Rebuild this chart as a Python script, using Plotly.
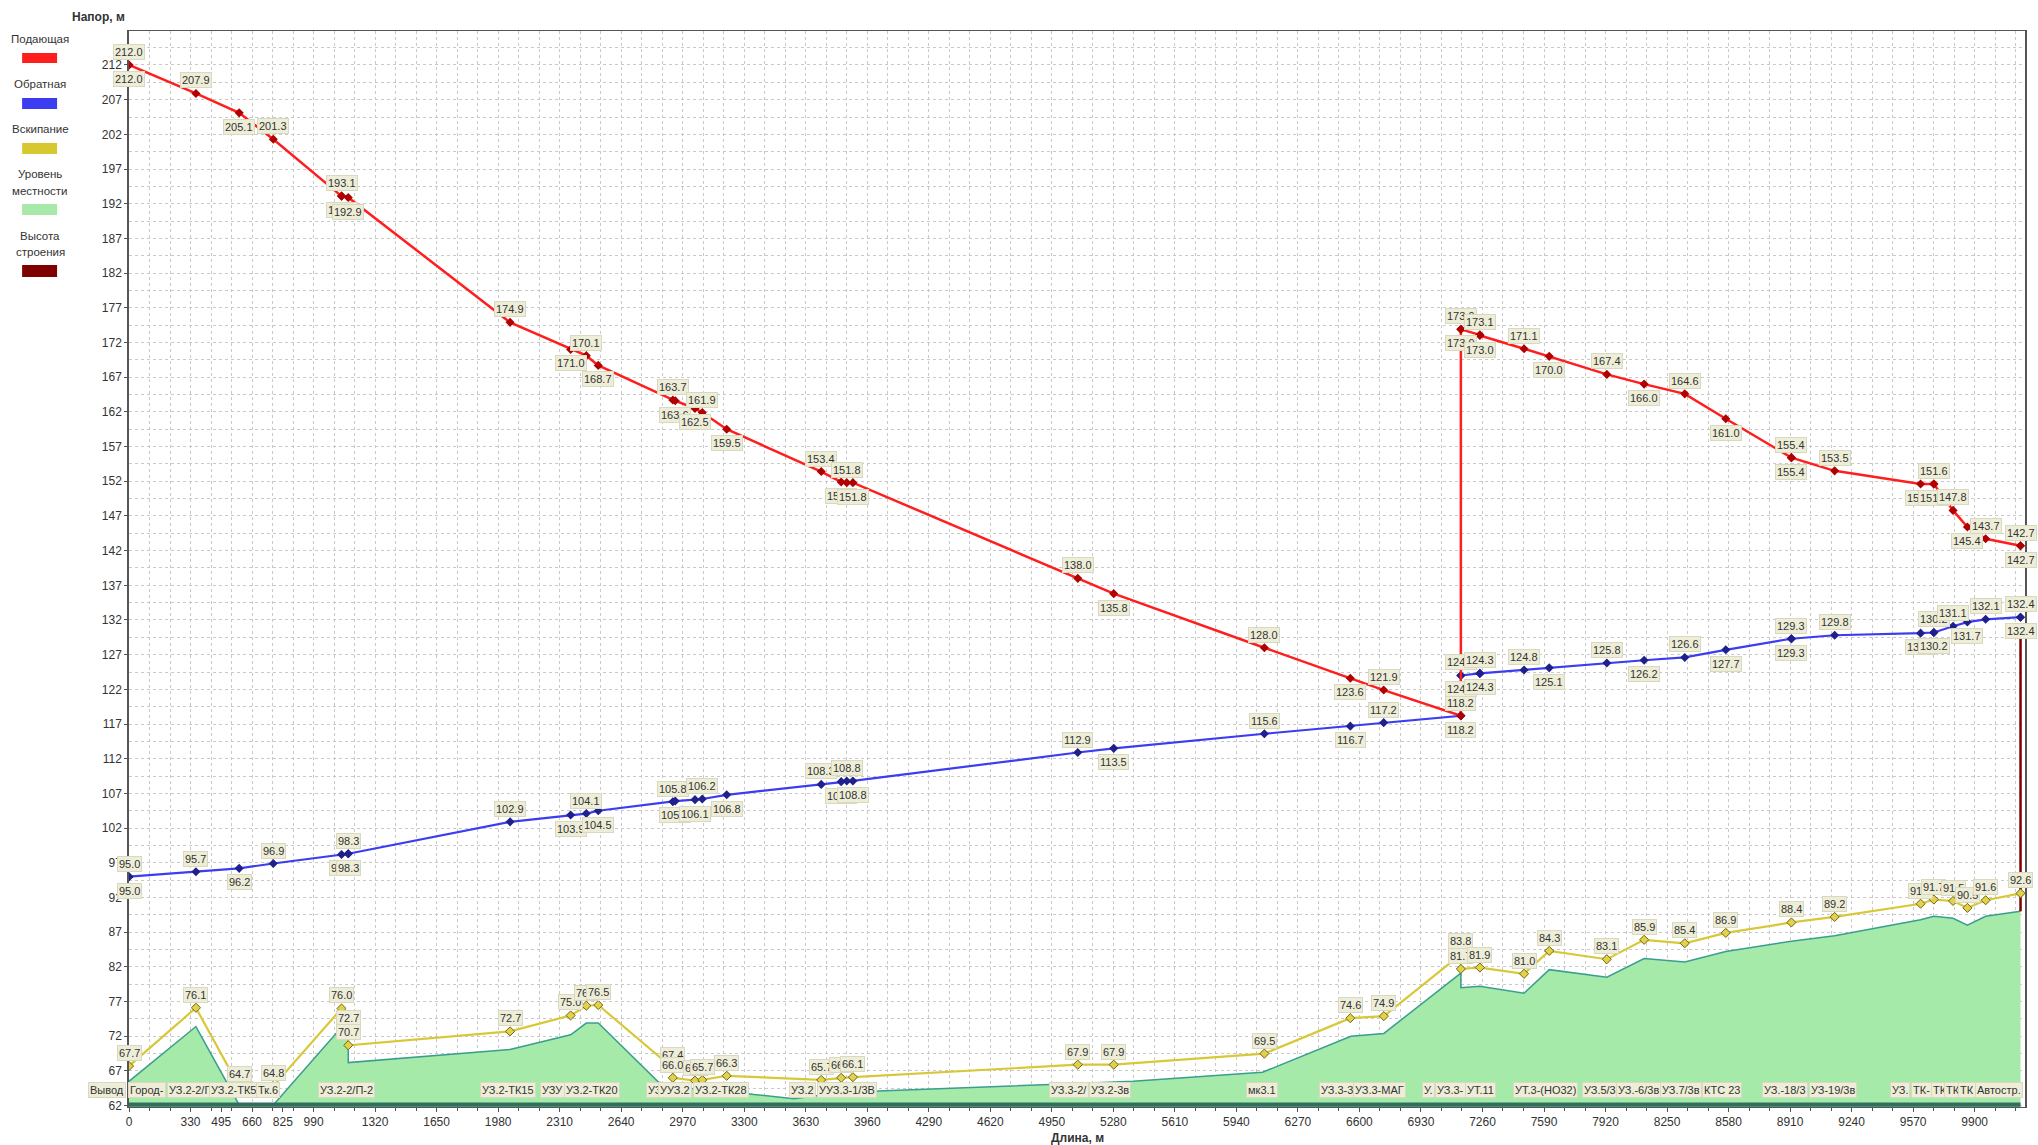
import plotly.graph_objects as go

# ---------------- data ----------------
x_tick_vals = [0, 330, 495, 660, 825, 990, 1320, 1650, 1980, 2310, 2640, 2970, 3300, 3630, 3960,
               4290, 4620, 4950, 5280, 5610, 5940, 6270, 6600, 6930, 7260, 7590, 7920, 8250,
               8580, 8910, 9240, 9570, 9900]
y_tick_vals = list(range(62, 213, 5))

# Подающая (supply head)
red_dist = [0, 0, 359, 591, 774, 1140, 1140, 1176, 2044, 2369, 2453, 2517, 2917, 2930, 3036, 3075,
            3206, 3713, 3820, 3850, 3883, 5089, 5282, 6090, 6551, 6730, 7144, 7144, 7144, 7246,
            7246, 7483, 7618, 7927, 8127, 8345, 8565, 8917, 8917, 9149, 9610, 9681, 9681, 9784,
            9861, 9959, 10146, 10146]
red_head = [212.0, 212.0, 207.9, 205.1, 201.3, 193.1, 193.1, 192.9, 174.9, 171.0, 170.1, 168.7,
            163.7, 163.6, 162.5, 161.9, 159.5, 153.4, 151.9, 151.8, 151.8, 138.0, 135.8, 128.0,
            123.6, 121.9, 118.2, 173.9, 173.9, 173.1, 173.0, 171.1, 170.0, 167.4, 166.0, 164.6,
            161.0, 155.4, 155.4, 153.5, 151.6, 151.6, 151.6, 147.8, 145.4, 143.7, 142.7, 142.7]
red_lab = ['t', 'b', 't', 'b', 't', 't', 'b', 'b', 't', 'b', 't', 'b', 't', 'b', 'b', 't',
           'b', 't', 'b', 't', 'b', 't', 'b', 't', 'b', 't', '', 't', 'b', 't',
           'b', 't', 'b', 't', 'b', 't', 'b', 't', 'b', 't', 'b', 't', 'b', 't',
           'b', 't', 't', 'b']

# Обратная (return head)
blue_dist = [0, 0, 359, 591, 774, 1140, 1176, 1176, 2044, 2369, 2453, 2517, 2917, 2930, 3036, 3075,
             3206, 3713, 3820, 3850, 3883, 5089, 5282, 6090, 6551, 6730, 7144, 7144, 7144, 7144,
             7246, 7246, 7483, 7618, 7927, 8127, 8345, 8565, 8917, 8917, 9149, 9610, 9681, 9681,
             9784, 9861, 9959, 10146, 10146]
blue_head = [95.0, 95.0, 95.7, 96.2, 96.9, 98.2, 98.3, 98.3, 102.9, 103.9, 104.1, 104.5, 105.8,
             105.9, 106.1, 106.2, 106.8, 108.3, 108.7, 108.8, 108.8, 112.9, 113.5, 115.6, 116.7,
             117.2, 118.2, 118.2, 124.0, 124.0, 124.3, 124.3, 124.8, 125.1, 125.8, 126.2, 126.6,
             127.7, 129.3, 129.3, 129.8, 130.1, 130.2, 130.2, 131.1, 131.7, 132.1, 132.4, 132.4]
blue_lab = ['t', 'b', 't', 'b', 't', 'b', 't', 'b', 't', 'b', 't', 'b', 't', 'b', 'b', 't',
            'b', 't', 'b', 't', 'b', 't', 'b', 't', 'b', 't', 't', 'b', 't', 'b',
            't', 'b', 't', 'b', 't', 'b', 't', 'b', 't', 'b', 't', 'b', 't', 'b',
            't', 'b', 't', 't', 'b']

# Вскипание (boiling head)
boil_dist = [0, 359, 591, 774, 1140, 1176, 1176, 2044, 2369, 2453, 2517, 2917, 2917, 3036, 3075,
             3206, 3713, 3820, 3883, 5089, 5282, 6090, 6551, 6731, 7144, 7144, 7246, 7483, 7618,
             7927, 8127, 8345, 8565, 8917, 9149, 9610, 9681, 9784, 9861, 9959, 10146]
boil_head = [67.7, 76.1, 64.7, 64.8, 76.0, 72.7, 70.7, 72.7, 75.0, 76.4, 76.5, 67.4, 66.0, 65.6,
             65.7, 66.3, 65.7, 66.0, 66.1, 67.9, 67.9, 69.5, 74.6, 74.9, 83.8, 81.7, 81.9, 81.0,
             84.3, 83.1, 85.9, 85.4, 86.9, 88.4, 89.2, 91.1, 91.7, 91.5, 90.5, 91.6, 92.6]

# Уровень местности (ground level)
ground_dist = [0, 359, 591, 774, 1140, 1176, 1176, 2044, 2369, 2453, 2517, 2840, 2945, 3206, 3353,
               3568, 3735, 4022, 5089, 5386, 6080, 6554, 6731, 7144, 7144, 7246, 7483, 7618, 7927,
               8127, 8345, 8565, 8917, 9149, 9610, 9681, 9784, 9861, 9959, 10146]
ground_elev = [65.5, 73.4, 62.1, 62.1, 73.3, 71.6, 68.2, 70.1, 72.2, 73.9, 73.9, 65.4, 64.6, 64.1,
               63.6, 63.0, 63.6, 64.1, 65.2, 65.5, 66.8, 72.0, 72.4, 81.1, 79.0, 79.2, 78.2, 81.6,
               80.5, 83.2, 82.7, 84.2, 85.7, 86.5, 88.8, 89.3, 89.0, 88.0, 89.3, 90.0]

# Высота строения (building height at the end consumer)
building_dist = [10146, 10146]
building_head = [90.0, 131.0]

# node names along the profile
node_names = ["Вывод", "Город-", "УЗ.2-2/Г", "УЗ.2-ТК5", "Тк.6", "УЗ.2-2/П-2", "УЗ.2-ТК15", "УЗУ",
              "УЗ.2-ТК20", "УЗ.", "УУЗ.2", "УЗ.2-ТК28", "УЗ.2", "УУЗ.3-1/3В", "УЗ.3-2/",
              "УЗ.2-3в", "мк3.1", "УЗ.3-3", "УЗ.3-МАГ", "У.", "УЗ.3-", "УТ.11", "УТ.3-(НО32)",
              "УЗ.5/3", "УЗ.-6/3в", "УЗ.7/3в", "КТС 23", "УЗ.-18/3", "УЗ-19/3в", "УЗ.", "ТК-",
              "ТК", "ТК.", "ТК", "Автостр."]
node_name_dist = [-120, 96, 326, 562, 743, 1168, 2032, 2269, 2485, 2825, 2930, 3174, 3613, 3849,
                  5040, 5263, 6078, 6482, 6705, 6969, 7088, 7248, 7596, 7888, 8097, 8327, 8543,
                  8884, 9142, 9497, 9616, 9713, 9789, 9859, 10033]

legend_items = [("Подающая",), ("Обратная",), ("Вскипание",), ("Уровень", "местности"),
                ("Высота", "строения")]

# ---------------- layout geometry ----------------
W, H = 2038, 1145
PL, PR, PT, PB = 129, 2027, 31, 1107
XR = [0, 10170]
YR = [61.8, 216.9]

FONT = "Liberation Sans, Arial, sans-serif"
C_RED = "#FF1E1E"
C_BLUE = "#3C3CF0"
C_YEL = "#D8C838"
C_GFILL = "#A6EAAA"
C_GLINE = "#3A9E8E"
C_BLD = "#7F0000"
LBL_BG = "#EEEED8"
LBL_BORDER = "#D9D9C2"


def px_to_paper(px, py):
    return (px - PL) / (PR - PL), (PB - py) / (PB - PT)


fig = go.Figure()

fig.add_trace(go.Scatter(x=ground_dist, y=ground_elev, mode="lines", fill="tozeroy",
                         fillcolor=C_GFILL, line=dict(color=C_GLINE, width=1.5),
                         hoverinfo="skip", showlegend=False))
fig.add_trace(go.Scatter(x=building_dist, y=building_head, mode="lines",
                         line=dict(color=C_BLD, width=2.5), hoverinfo="skip", showlegend=False))
fig.add_trace(go.Scatter(x=boil_dist, y=boil_head, mode="lines+markers",
                         line=dict(color=C_YEL, width=2.2),
                         marker=dict(symbol="diamond", size=7, color="#E2D24A",
                                     line=dict(color="#6F6412", width=1)),
                         hoverinfo="skip", showlegend=False))
fig.add_trace(go.Scatter(x=blue_dist, y=blue_head, mode="lines+markers",
                         line=dict(color=C_BLUE, width=2.2),
                         marker=dict(symbol="diamond", size=7, color="#20208A"),
                         hoverinfo="skip", showlegend=False))
fig.add_trace(go.Scatter(x=red_dist, y=red_head, mode="lines+markers",
                         line=dict(color=C_RED, width=2.5),
                         marker=dict(symbol="diamond", size=7, color="#B00000"),
                         hoverinfo="skip", showlegend=False))

# dark strip along the bottom of the ground profile
fig.add_shape(type="rect", xref="x", yref="y", x0=0, x1=ground_dist[-1], y0=61.85, y1=62.45,
              fillcolor="#2E6F60", line=dict(width=0), layer="above")

lbl_font = dict(family=FONT, size=11, color="#333333")


def add_value_labels(xs, ys, pos):
    for x, y, p in zip(xs, ys, pos):
        if not p:
            continue
        fig.add_annotation(x=x, y=y, xref="x", yref="y", text=f"{y:.1f}", showarrow=False,
                           xanchor="center", yanchor="middle",
                           yshift=13 if p == "t" else -14, font=lbl_font, bgcolor=LBL_BG,
                           bordercolor=LBL_BORDER, borderwidth=1, borderpad=1)


add_value_labels(boil_dist, boil_head, ["t"] * len(boil_head))
add_value_labels(blue_dist, blue_head, blue_lab)
add_value_labels(red_dist, red_head, red_lab)

ny = px_to_paper(0, 1090)[1]
for name, d in zip(node_names, node_name_dist):
    fig.add_annotation(x=(d - XR[0]) / (XR[1] - XR[0]), y=ny, xref="paper", yref="paper",
                       text=name, showarrow=False, xanchor="center", yanchor="middle",
                       font=lbl_font, bgcolor=LBL_BG, bordercolor=LBL_BORDER, borderwidth=1,
                       borderpad=1)

# axis titles
tx, ty = px_to_paper(98, 17)
fig.add_annotation(x=tx, y=ty, xref="paper", yref="paper", text="<b>Напор, м</b>",
                   showarrow=False, xanchor="center", yanchor="middle",
                   font=dict(family=FONT, size=12, color="#333333"))
tx, ty = px_to_paper(1078, 1138)
fig.add_annotation(x=tx, y=ty, xref="paper", yref="paper", text="<b>Длина, м</b>",
                   showarrow=False, xanchor="center", yanchor="middle",
                   font=dict(family=FONT, size=12, color="#333333"))

# legend (text above colour swatch)
legend_colors = [C_RED, C_BLUE, "#D8C830", "#A8E8A8", C_BLD]
text_rows = [[39], [84], [129], [174, 191], [236, 252]]
swatch_rows = [(53, 63), (98, 109), (143, 154), (204, 215), (265, 277)]
for item, col, trows, (s0, s1) in zip(legend_items, legend_colors, text_rows, swatch_rows):
    for line, yy in zip(item, trows):
        lx, ly = px_to_paper(40, yy)
        fig.add_annotation(x=lx, y=ly, xref="paper", yref="paper", text=line, showarrow=False,
                           xanchor="center", yanchor="middle",
                           font=dict(family=FONT, size=11.5, color="#333333"))
    x0, y0 = px_to_paper(22, s1)
    x1, y1 = px_to_paper(57, s0)
    fig.add_shape(type="rect", xref="paper", yref="paper", x0=x0, x1=x1, y0=y0, y1=y1,
                  fillcolor=col, line=dict(width=0))

grid = dict(gridcolor="#C9C9C9", griddash="dot", gridwidth=1)

fig.update_xaxes(range=XR, tickmode="array", tickvals=x_tick_vals,
                 ticktext=[str(v) for v in x_tick_vals], showgrid=False, zeroline=False,
                 showline=True, linecolor="#555555", linewidth=1, mirror=True,
                 ticks="outside", ticklen=4, tickcolor="#555555",
                 tickfont=dict(family=FONT, size=12, color="#333333"),
                 minor=dict(tickmode="linear", tick0=0, dtick=110, showgrid=True, ticks="outside",
                            ticklen=3, tickcolor="#555555", **grid))
fig.update_yaxes(range=YR, tickmode="array", tickvals=y_tick_vals,
                 ticktext=[str(v) for v in y_tick_vals], showgrid=True, **grid,
                 zeroline=False, showline=True, linecolor="#555555", linewidth=1.5, mirror=True,
                 ticks="outside", ticklen=3, tickcolor="#555555",
                 tickfont=dict(family=FONT, size=12, color="#333333"),
                 minor=dict(tickmode="linear", tick0=62, dtick=2.5, showgrid=True, **grid))

fig.update_layout(width=W, height=H, autosize=False,
                  margin=dict(l=PL, r=W - PR, t=PT, b=H - PB, pad=0),
                  paper_bgcolor="white", plot_bgcolor="white",
                  font=dict(family=FONT, size=12, color="#333333"), showlegend=False)

fig.write_html("out.html", config={"displayModeBar": False},
               post_script="document.body.style.margin='0px';document.body.style.overflow='hidden';")
